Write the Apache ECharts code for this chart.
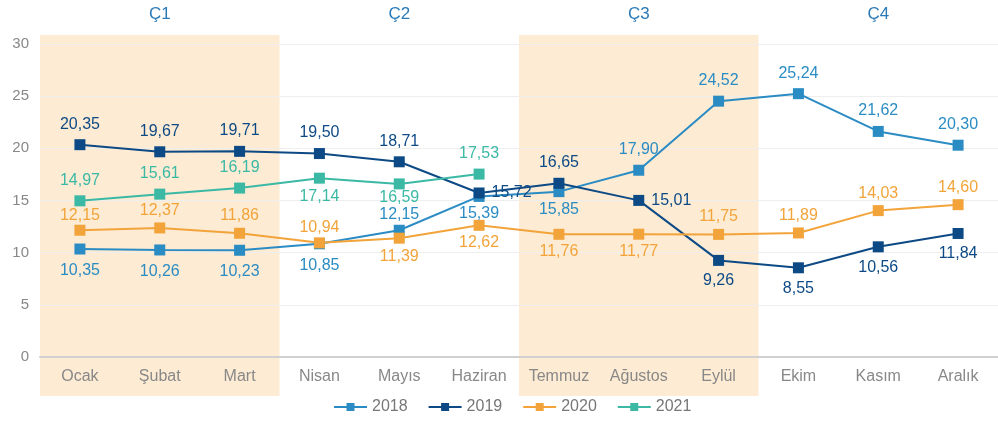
<!DOCTYPE html>
<html>
<head>
<meta charset="utf-8">
<script src="https://cdn.jsdelivr.net/npm/echarts@6/dist/echarts.min.js"></script>
<style>
  html, body { margin: 0; padding: 0; background: #fff; }
  #chart { width: 998px; height: 426px; }
</style>
</head>
<body>
<div id="chart"></div>
<script>
var months = ['Ocak', 'Şubat', 'Mart', 'Nisan', 'Mayıs', 'Haziran', 'Temmuz', 'Ağustos', 'Eylül', 'Ekim', 'Kasım', 'Aralık'];
var quarters = ['Ç1', 'Ç2', 'Ç3', 'Ç4'];
// shaded quarters (1 = shaded)
var shade = [1, 0, 1, 0];

var y2018 = [10.35, 10.26, 10.23, 10.85, 12.15, 15.39, 15.85, 17.90, 24.52, 25.24, 21.62, 20.30];
var y2019 = [20.35, 19.67, 19.71, 19.50, 18.71, 15.72, 16.65, 15.01, 9.26, 8.55, 10.56, 11.84];
var y2020 = [12.15, 12.37, 11.86, 10.94, 11.39, 12.62, 11.76, 11.77, 11.75, 11.89, 14.03, 14.60];
var y2021 = [14.97, 15.61, 16.19, 17.14, 16.59, 17.53, null, null, null, null, null, null];

// label placement per point
var pos2018 = ['bottom', 'bottom', 'bottom', 'bottom', 'top', 'bottom', 'bottom', 'top', 'top', 'top', 'top', 'top'];
var pos2019 = ['top', 'top', 'top', 'top', 'top', 'right', 'top', 'right', 'bottom', 'bottom', 'bottom', 'bottom'];
var pos2020 = ['top', 'top', 'top', 'top', 'bottom', 'bottom', 'bottom', 'bottom', 'top', 'top', 'top', 'top'];
var pos2021 = ['top', 'top', 'top', 'bottom', 'bottom', 'top'];
// label distance per point
var dist2018 = [8, 8, 8, 8, 2, 4, 4, 7, 7, 7, 7, 7];
var dist2019 = [7, 7, 7, 7, 7, 7, 7, 7, 7, 7, 7, 7];
var dist2020 = [1, 4, 4, 2, 5, 4, 4, 4, 4, 4, 4, 4];
var dist2021 = [7, 7, 7, 5, 0, 7];

var colors = ['#2b8cc4', '#0d4a85', '#f2a43a', '#3bb9a5'];

function fmt(v) { return v.toFixed(2).replace('.', ','); }

function lineSeries(name, data, pos, dist, color) {
  return {
    name: name,
    type: 'line',
    xAxisIndex: 0,
    yAxisIndex: 0,
    data: data.map(function (v, i) {
      if (v === null) return null;
      return { value: v, label: { position: pos[i], distance: dist[i] } };
    }),
    symbol: 'rect',
    symbolSize: 11,
    z: 3,
    lineStyle: { color: color, width: 2 },
    itemStyle: { color: color },
    label: {
      show: true,
      color: color,
      fontSize: 16,
      formatter: function (p) { return fmt(p.value); }
    }
  };
}

var myChart = echarts.init(document.getElementById('chart'));
myChart.setOption({
  animation: false,
  textStyle: { fontFamily: 'Liberation Sans' },
  grid: [
    { left: 40, width: 966, top: 44, bottom: 69 },
    { left: 40, width: 966, top: 35, bottom: 30 }
  ],
  legend: {
    bottom: 6,
    left: 328,
    data: ['2018', '2019', '2020', '2021'],
    itemWidth: 33,
    itemHeight: 10,
    itemGap: 20,
    textStyle: { color: '#777', fontSize: 16 }
  },
  xAxis: [
    {
      type: 'category',
      gridIndex: 0,
      data: months,
      axisLine: { lineStyle: { color: '#d0d0d0', width: 2 } },
      axisTick: { show: false },
      axisLabel: { color: '#888', fontSize: 16, margin: 12 }
    },
    {
      type: 'category',
      gridIndex: 1,
      data: quarters,
      position: 'top',
      axisLine: { show: false },
      axisTick: { show: false },
      axisLabel: { color: '#2a7ab8', fontSize: 17, margin: 12 }
    }
  ],
  yAxis: [
    {
      type: 'value',
      gridIndex: 0,
      min: 0,
      max: 30,
      interval: 5,
      axisLine: { show: false },
      axisTick: { show: false },
      axisLabel: { color: '#888', fontSize: 15, margin: 11 },
      splitLine: { lineStyle: { color: '#eeeeee', width: 1 } }
    },
    {
      type: 'value',
      gridIndex: 1,
      min: 0,
      max: 1,
      show: false
    }
  ],
  series: [
    {
      name: 'bg',
      type: 'bar',
      xAxisIndex: 1,
      yAxisIndex: 1,
      data: shade,
      barCategoryGap: '0%',
      z: -1,
      silent: true,
      itemStyle: { color: '#fdebd3' }
    },
    lineSeries('2018', y2018, pos2018, dist2018, colors[0]),
    lineSeries('2019', y2019, pos2019, dist2019, colors[1]),
    lineSeries('2020', y2020, pos2020, dist2020, colors[2]),
    lineSeries('2021', y2021, pos2021, dist2021, colors[3])
  ]
});
</script>
</body>
</html>
